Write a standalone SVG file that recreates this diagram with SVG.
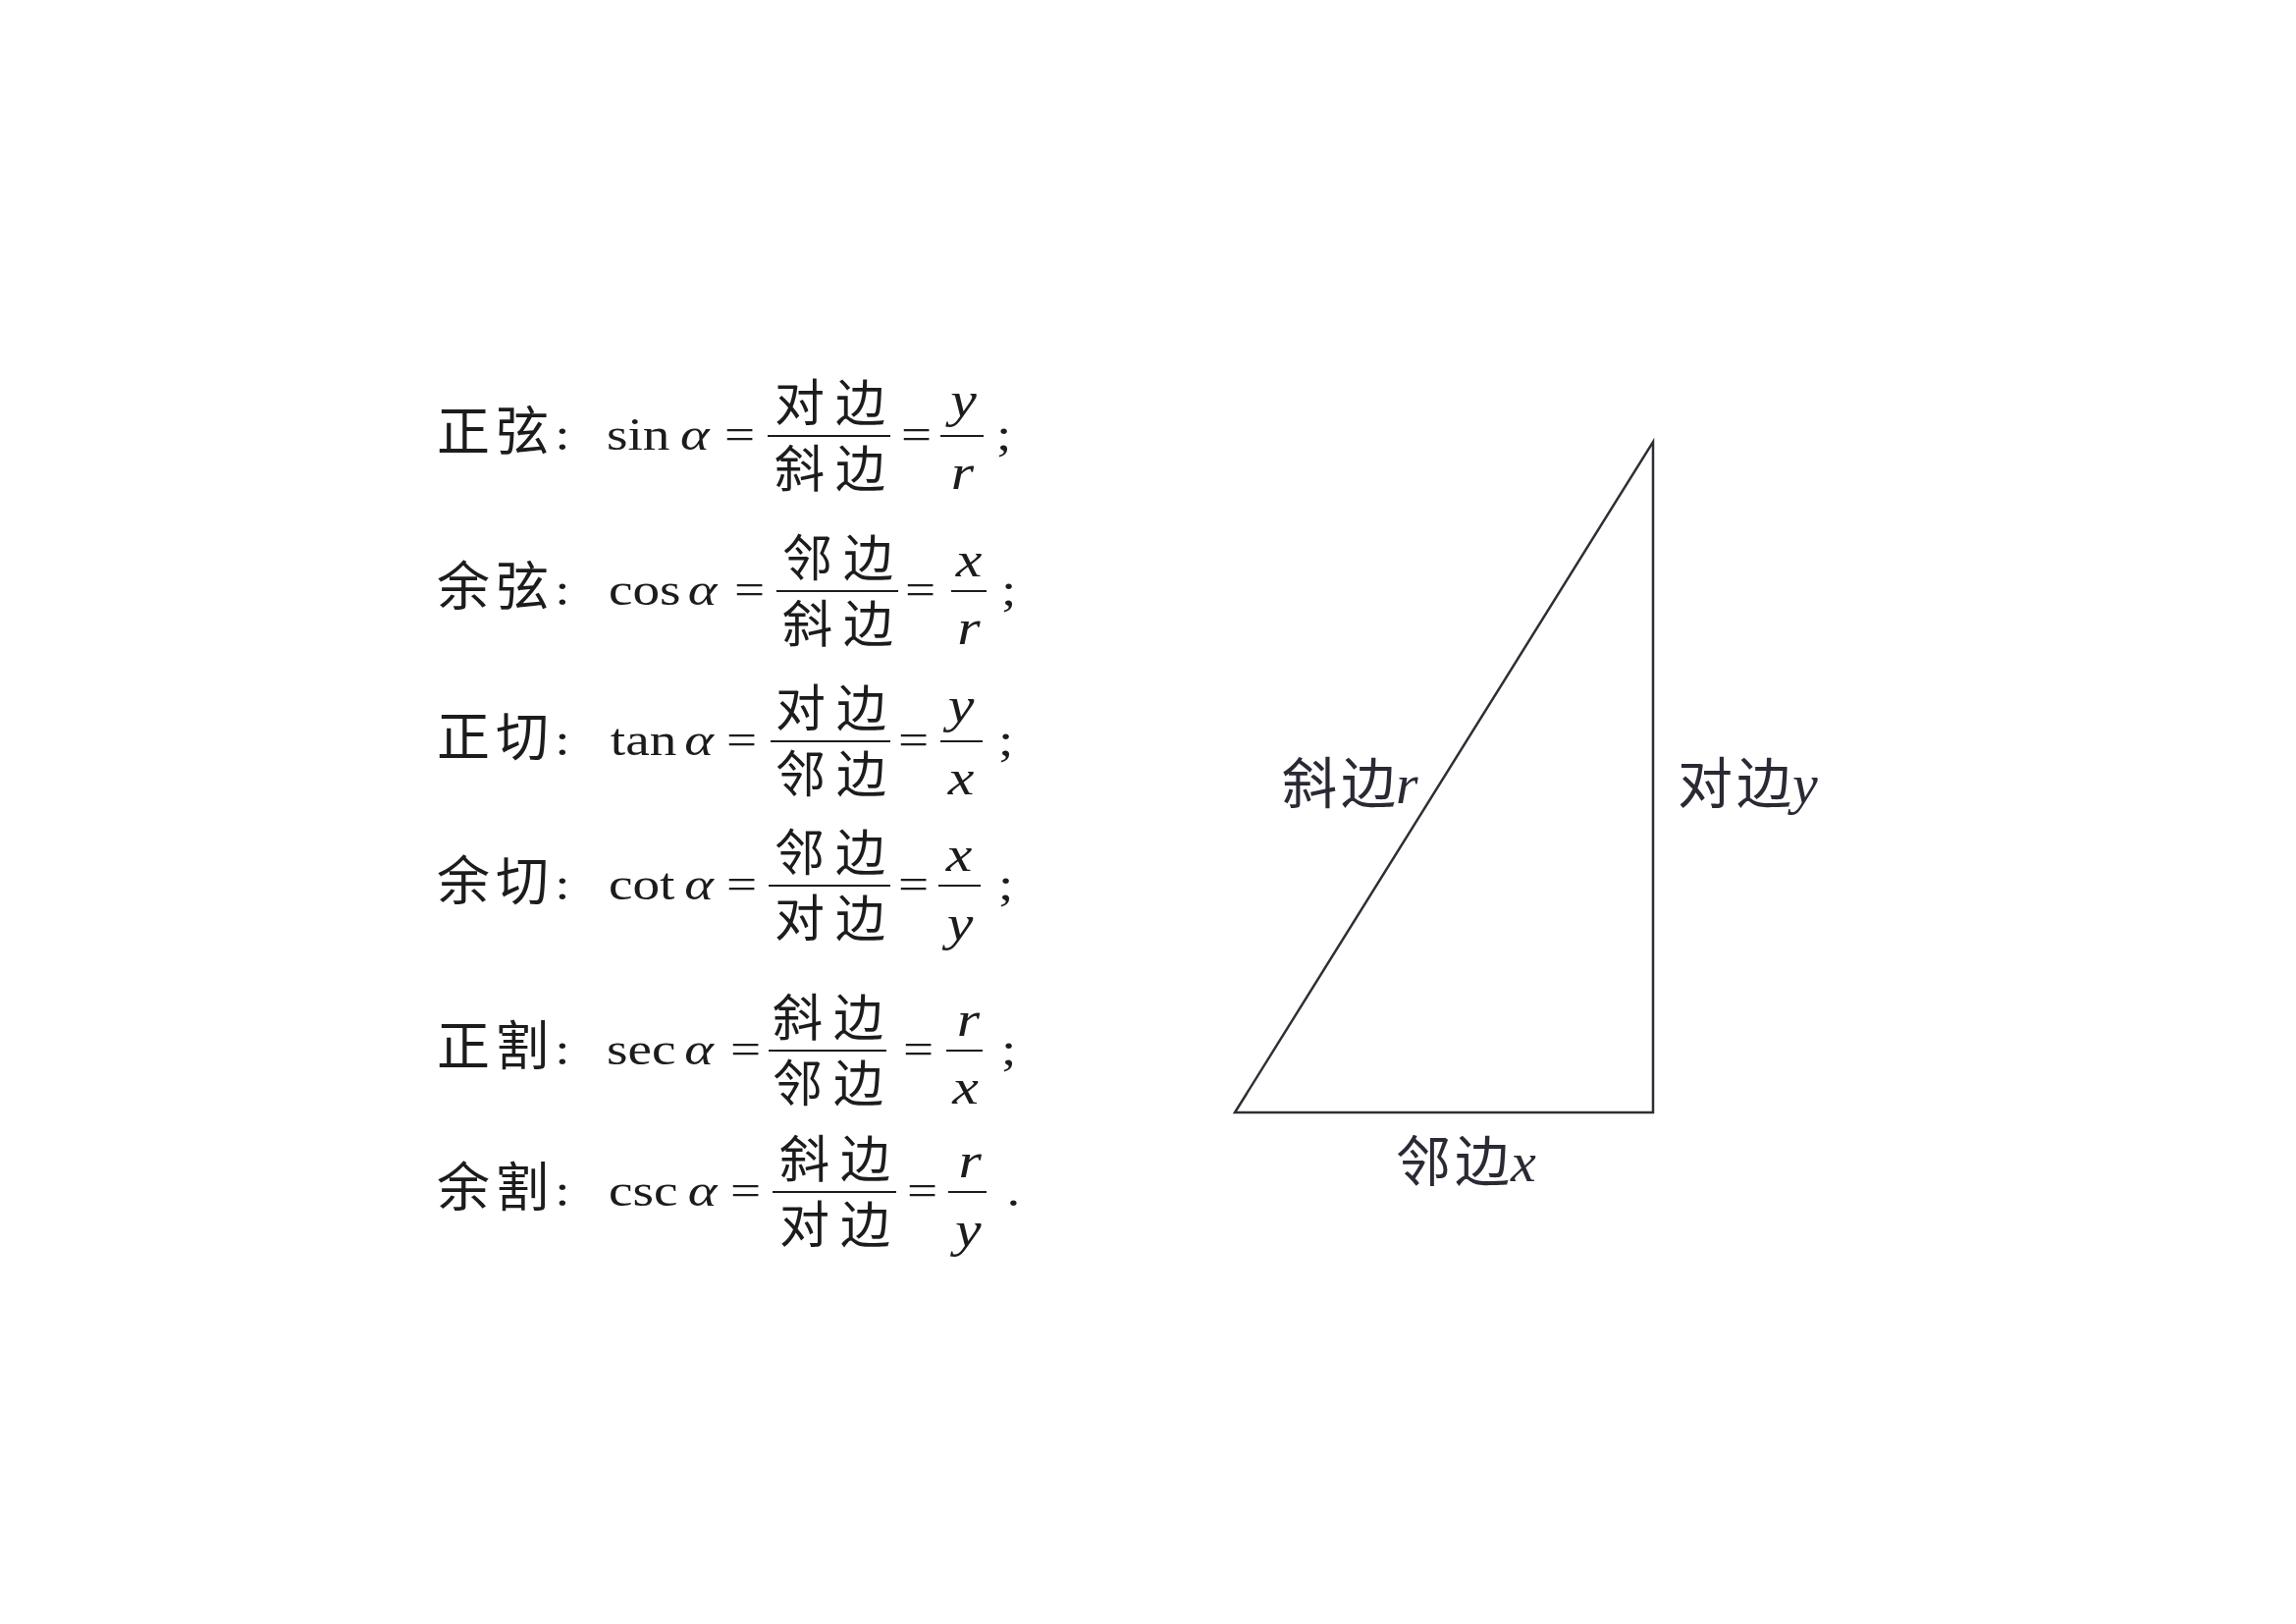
<svg xmlns="http://www.w3.org/2000/svg" width="2339" height="1654" viewBox="0 0 2339 1654">
<style>
.lab{font-family:"Noto Sans CJK SC","Noto Sans CJK TC",sans-serif;font-size:54px;fill:#1c1c1c}
.fc{font-family:"Noto Sans CJK SC","Noto Sans CJK TC",sans-serif;font-size:51px;fill:#1c1c1c}
.rm{font-family:"Liberation Serif",serif;font-size:46px;fill:#1c1c1c}
.al{font-family:"Liberation Serif",serif;font-style:italic;font-size:47px;fill:#1c1c1c}
.fi{font-family:"Liberation Serif",serif;font-style:italic;font-size:50px;fill:#1c1c1c;text-anchor:middle}
.bar{stroke:#1c1c1c;stroke-width:2}
.tri{fill:none;stroke:#2e2e36;stroke-width:2.5;stroke-linejoin:miter}
.tl{font-family:"Noto Sans CJK SC",sans-serif;font-size:56px;fill:#2a2a35}
.tli{font-family:"Liberation Serif",serif;font-style:italic;font-size:58px;fill:#2a2a35}
</style>
<rect width="2339" height="1654" fill="#ffffff"/>

<g id="sin">
<line class="bar" x1="782" y1="444" x2="907" y2="444"/>
<line class="bar" x1="958" y1="444" x2="1002" y2="444"/>
<text class="lab" x="445 505" y="459">正弦</text>
<text class="fc" x="789 851" y="429">对边</text><text class="fc" x="789 851" y="496">斜边</text>
<g transform="scale(1.2 1)">
<text class="rm" x="471" y="458">:</text>
<text class="rm" x="515" y="458">sin</text><text class="al" x="577.5" y="458">α</text>
<text class="rm" x="615" y="458">=</text>
<text class="rm" x="765" y="458">=</text>
<text class="fi" x="818" y="424">y</text><text class="fi" x="817" y="498">r</text>
<text class="rm" x="845.8" y="458">;</text>
</g>
</g>

<g id="cos">
<line class="bar" x1="791" y1="602" x2="915" y2="602"/>
<line class="bar" x1="969" y1="602" x2="1005" y2="602"/>
<text class="lab" x="445 505" y="617">余弦</text>
<text class="fc" x="797 859" y="587">邻边</text><text class="fc" x="797 859" y="654">斜边</text>
<g transform="scale(1.2 1)">
<text class="rm" x="471" y="616">:</text>
<text class="rm" x="516.7" y="616">cos</text><text class="al" x="584" y="616">α</text>
<text class="rm" x="623.3" y="616">=</text>
<text class="rm" x="768.3" y="616">=</text>
<text class="fi" x="822.5" y="587">x</text><text class="fi" x="822.5" y="656">r</text>
<text class="rm" x="850" y="616">;</text>
</g>
</g>

<g id="tan">
<line class="bar" x1="785" y1="755" x2="907" y2="755"/>
<line class="bar" x1="958" y1="755" x2="1001" y2="755"/>
<text class="lab" x="445 505" y="770">正切</text>
<text class="fc" x="790 852" y="740">对边</text><text class="fc" x="790 852" y="807">邻边</text>
<g transform="scale(1.2 1)">
<text class="rm" x="471" y="769">:</text>
<text class="rm" x="518.2" y="769">tan</text><text class="al" x="581" y="769">α</text>
<text class="rm" x="616.7" y="769">=</text>
<text class="rm" x="762.5" y="769">=</text>
<text class="fi" x="816" y="735">y</text><text class="fi" x="815.8" y="809">x</text>
<text class="rm" x="847.5" y="769">;</text>
</g>
</g>

<g id="cot">
<line class="bar" x1="783" y1="902" x2="907" y2="902"/>
<line class="bar" x1="956" y1="902" x2="999" y2="902"/>
<text class="lab" x="445 505" y="917">余切</text>
<text class="fc" x="789 851" y="887">邻边</text><text class="fc" x="789 851" y="954">对边</text>
<g transform="scale(1.2 1)">
<text class="rm" x="471" y="916">:</text>
<text class="rm" x="516.7" y="916">cot</text><text class="al" x="581" y="916">α</text>
<text class="rm" x="616.7" y="916">=</text>
<text class="rm" x="762.5" y="916">=</text>
<text class="fi" x="814.2" y="887">x</text><text class="fi" x="815" y="957">y</text>
<text class="rm" x="847.5" y="916">;</text>
</g>
</g>

<g id="sec">
<line class="bar" x1="783" y1="1070" x2="903" y2="1070"/>
<line class="bar" x1="964" y1="1070" x2="1001" y2="1070"/>
<text class="lab" x="445 505" y="1085">正割</text>
<text class="fc" x="787 849" y="1055">斜边</text><text class="fc" x="787 849" y="1122">邻边</text>
<g transform="scale(1.2 1)">
<text class="rm" x="471" y="1084">:</text>
<text class="rm" x="515" y="1084">sec</text><text class="al" x="581" y="1084">α</text>
<text class="rm" x="620" y="1084">=</text>
<text class="rm" x="766.7" y="1084">=</text>
<text class="fi" x="822" y="1055">r</text><text class="fi" x="819.6" y="1124">x</text>
<text class="rm" x="850" y="1084">;</text>
</g>
</g>

<g id="csc">
<line class="bar" x1="787" y1="1214" x2="913" y2="1214"/>
<line class="bar" x1="966" y1="1214" x2="1005" y2="1214"/>
<text class="lab" x="445 505" y="1229">余割</text>
<text class="fc" x="794 856" y="1199">斜边</text><text class="fc" x="794 856" y="1266">对边</text>
<g transform="scale(1.2 1)">
<text class="rm" x="471" y="1228">:</text>
<text class="rm" x="516.7" y="1228">csc</text><text class="al" x="584" y="1228">α</text>
<text class="rm" x="620" y="1228">=</text>
<text class="rm" x="770" y="1228">=</text>
<text class="fi" x="823.5" y="1199">r</text><text class="fi" x="822" y="1269">y</text>
<text class="rm" x="854.5" y="1228">.</text>
</g>
</g>

<g id="triangle">
<polygon class="tri" points="1258,1133 1684,450 1684,1133"/>
</g>
<g id="labels">
<text class="tl" x="1306 1366" y="818">斜边</text><text class="tli" x="1422" y="818">r</text>
<text class="tl" x="1709 1769" y="818">对边</text><text class="tli" x="1826" y="818">y</text>
<text class="tl" x="1422 1482" y="1203">邻边</text><text class="tli" x="1539" y="1203">x</text>
</g>
</svg>
